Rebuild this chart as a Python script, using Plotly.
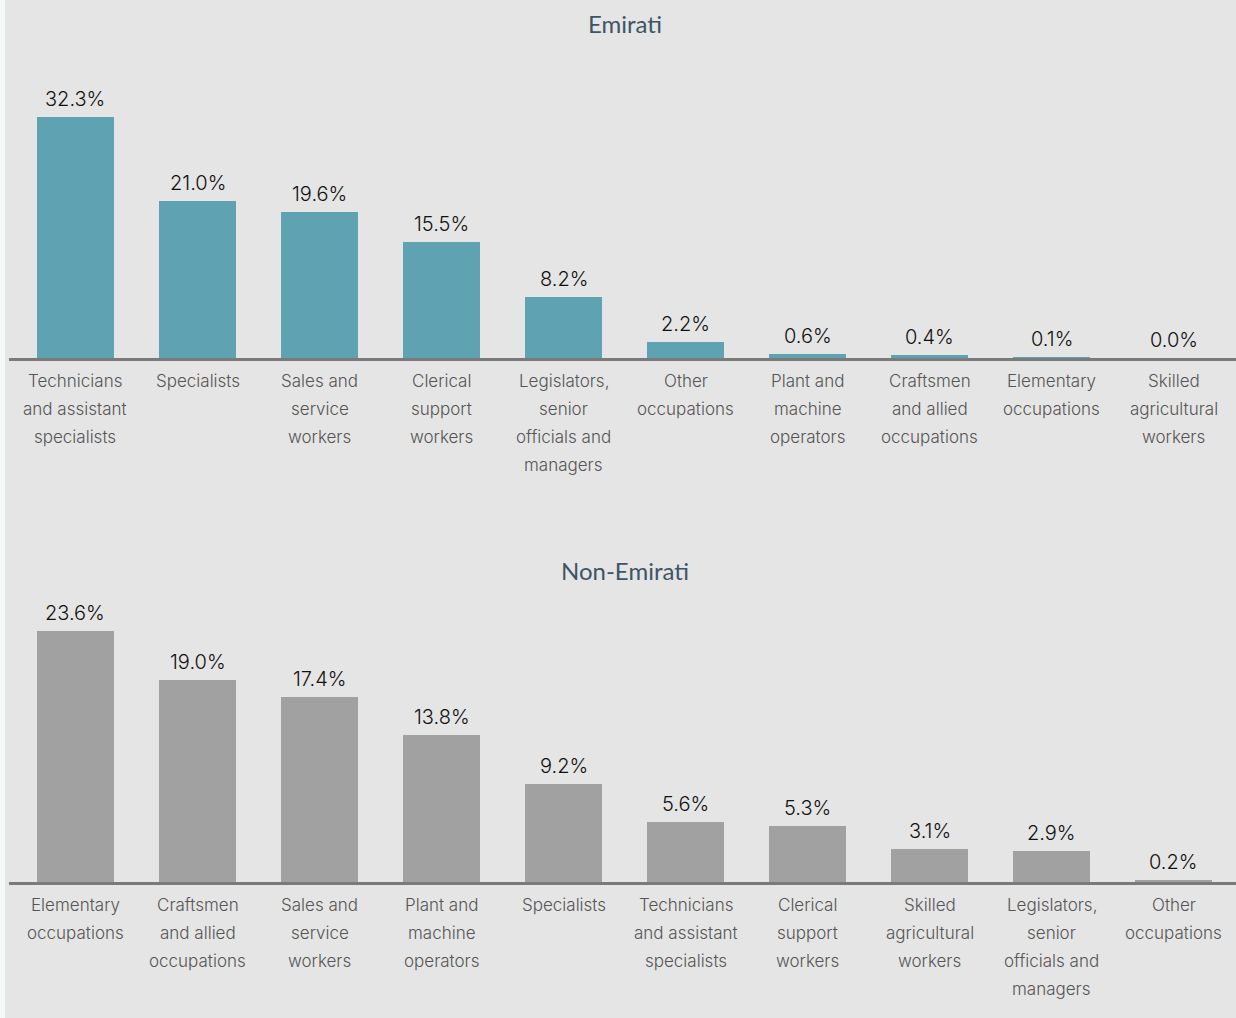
import plotly.graph_objects as go

# ---- data ----
emirati_cats = ["Technicians and assistant specialists", "Specialists", "Sales and service workers",
                "Clerical support workers", "Legislators, senior officials and managers", "Other occupations",
                "Plant and machine operators", "Craftsmen and allied occupations", "Elementary occupations",
                "Skilled agricultural workers"]
emirati_labels = ["Technicians|and assistant|specialists", "Specialists", "Sales and|service|workers",
                  "Clerical|support|workers", "Legislators,|senior|officials and|managers", "Other|occupations",
                  "Plant and|machine|operators", "Craftsmen|and allied|occupations", "Elementary|occupations",
                  "Skilled|agricultural|workers"]
emirati_vals = [32.3, 21.0, 19.6, 15.5, 8.2, 2.2, 0.6, 0.4, 0.1, 0.0]

non_cats = ["Elementary occupations", "Craftsmen and allied occupations", "Sales and service workers",
            "Plant and machine operators", "Specialists", "Technicians and assistant specialists",
            "Clerical support workers", "Skilled agricultural workers",
            "Legislators, senior officials and managers", "Other occupations"]
non_labels = ["Elementary|occupations", "Craftsmen|and allied|occupations", "Sales and|service|workers",
              "Plant and|machine|operators", "Specialists", "Technicians|and assistant|specialists",
              "Clerical|support|workers", "Skilled|agricultural|workers",
              "Legislators,|senior|officials and|managers", "Other|occupations"]
non_vals = [23.6, 19.0, 17.4, 13.8, 9.2, 5.6, 5.3, 3.1, 2.9, 0.2]

titles = ["Emirati", "Non-Emirati"]

# ---- styles ----
W, H = 1236, 1018
BG = "#e5e5e5"
TEAL = "#5fa3b3"
GREY = "#a1a1a2"
LABEL_FONT = dict(family="Inter, Roboto, sans-serif", size=17, color="#555555", weight=300)
VALUE_FONT = dict(family="Inter, Roboto, sans-serif", size=20, color="#111111", weight=300)
TITLE_FONT = dict(family="Lato, 'Open Sans', sans-serif", size=24, color="#3d5566", weight=400)

fig = go.Figure()

panels = [
    dict(cats=emirati_cats, labels=emirati_labels, vals=emirati_vals, color=TEAL,
         xa="x", ya="y", domain=[1 - 358 / H, 1 - 80 / H], yrange=[0, 278 / 7.46],
         title_y=1 - 23 / H),
    dict(cats=non_cats, labels=non_labels, vals=non_vals, color=GREY,
         xa="x2", ya="y2", domain=[1 - 882 / H, 1 - 600 / H], yrange=[0, 282 / 10.64],
         title_y=1 - 570 / H),
]

annotations = []
for i, p in enumerate(panels):
    fig.add_trace(go.Bar(
        x=p["cats"], y=p["vals"], marker=dict(color=p["color"], line=dict(width=0)),
        width=0.63, xaxis=p["xa"], yaxis=p["ya"], showlegend=False, hoverinfo="x+y",
    ))
    for c, v, lab in zip(p["cats"], p["vals"], p["labels"]):
        annotations.append(dict(x=c, y=v, xref=p["xa"], yref=p["ya"], text=f"{v:.1f}%",
                                showarrow=False, yanchor="middle", yshift=18, font=VALUE_FONT))
        for k, line in enumerate(lab.split("|")):
            annotations.append(dict(x=c, y=0, xref=p["xa"], yref=p["ya"], text=line,
                                    showarrow=False, yanchor="middle", yshift=-(23 + 28 * k),
                                    font=LABEL_FONT))
    annotations.append(dict(x=0.502, y=p["title_y"], xref="paper", yref="paper", text=titles[i],
                            showarrow=False, xanchor="center", yanchor="middle", font=TITLE_FONT))

axis_common = dict(range=[-0.545, 9.512], showticklabels=False, ticks="", showgrid=False,
                   zeroline=False, showline=True, linecolor="#7a7a7a", linewidth=3, fixedrange=True)

fig.update_layout(
    width=W, height=H,
    margin=dict(l=9, r=0, t=0, b=0),
    paper_bgcolor=BG, plot_bgcolor=BG,
    bargap=0,
    xaxis=dict(domain=[0, 1], anchor="y", **axis_common),
    xaxis2=dict(domain=[0, 1], anchor="y2", **axis_common),
    yaxis=dict(domain=panels[0]["domain"], range=panels[0]["yrange"], visible=False, anchor="x"),
    yaxis2=dict(domain=panels[1]["domain"], range=panels[1]["yrange"], visible=False, anchor="x2"),
    annotations=annotations,
    shapes=[dict(type="rect", xref="paper", yref="paper", x0=-9 / 1227, x1=-4 / 1227, y0=-0.01, y1=1.01,
                 fillcolor="#f3f8f8", line=dict(width=0), layer="below")],
)

fig.write_html("out.html", config={"displayModeBar": False},
               post_script="document.body.style.margin='0';")
